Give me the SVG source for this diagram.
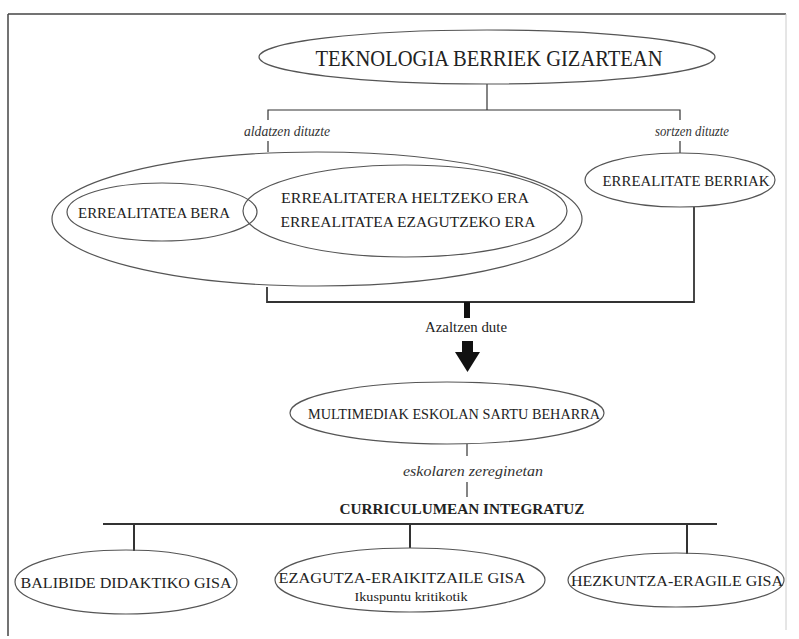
<svg xmlns="http://www.w3.org/2000/svg" width="799" height="639" viewBox="0 0 799 639">
<style>
.bg{fill:#ffffff}
.node ellipse{fill:none;stroke:#555;stroke-width:1.2}
.cap{font-family:"Liberation Serif","DejaVu Serif",serif;fill:#222;text-anchor:middle}
.lbl{font-family:"Liberation Serif","DejaVu Serif",serif;font-style:italic;fill:#333;text-anchor:middle}
.conn line,.conn polyline{stroke:#333;stroke-width:1.2;fill:none}
</style>
<rect class="bg" x="0" y="0" width="799" height="639"/>
<g id="frame">
<line x1="8" y1="14" x2="786" y2="14" stroke="#444" stroke-width="1.5"/>
<line x1="8" y1="14" x2="8" y2="636" stroke="#444" stroke-width="1.5"/>
<line x1="786" y1="14" x2="786" y2="630" stroke="#ccc" stroke-width="1"/>
</g>
<g class="conn" id="connectors">
<line x1="487" y1="84" x2="487" y2="110"/>
<polyline points="268,120 268,110 680,110 680,120"/>
<line x1="268" y1="141" x2="268" y2="152"/>
<line x1="680" y1="141" x2="680" y2="153"/>
<polyline points="267,287 267,302 694,302 694,207" style="stroke-width:1.8"/>
<line x1="467" y1="302" x2="467" y2="318" style="stroke:#111;stroke-width:6"/>
<line x1="467" y1="444" x2="467" y2="456"/>
<line x1="467" y1="482" x2="467" y2="497"/>
<line x1="103" y1="524" x2="717" y2="524" style="stroke-width:2.2"/>
<line x1="134" y1="524" x2="134" y2="551" style="stroke-width:2"/>
<line x1="410" y1="524" x2="410" y2="548" style="stroke-width:2"/>
<line x1="687" y1="524" x2="687" y2="554" style="stroke-width:2"/>
<polygon points="462,341 473,341 473,352 480,352 467.5,372 455,352 462,352" fill="#111" stroke="none"/>
</g>
<text class="lbl" x="287" y="136" font-size="15" textLength="86" lengthAdjust="spacingAndGlyphs">aldatzen dituzte</text>
<text class="lbl" x="692" y="136" font-size="15" textLength="74" lengthAdjust="spacingAndGlyphs">sortzen dituzte</text>
<text class="cap" x="466" y="332" font-size="15" font-family="Liberation Sans" textLength="82" lengthAdjust="spacingAndGlyphs">Azaltzen dute</text>
<text class="lbl" x="473" y="476" font-size="15" textLength="140" lengthAdjust="spacingAndGlyphs">eskolaren zereginetan</text>
<text class="cap" x="462" y="514" font-size="15" font-weight="bold" textLength="245" lengthAdjust="spacingAndGlyphs">CURRICULUMEAN INTEGRATUZ</text>
<g class="node" id="n-teknologia">
<ellipse cx="487" cy="57" rx="228" ry="27"/>
<text class="cap" x="489" y="66" font-size="24" textLength="347" lengthAdjust="spacingAndGlyphs">TEKNOLOGIA BERRIEK GIZARTEAN</text>
</g>
<g class="node" id="n-errealitatea-group">
<ellipse cx="317" cy="219" rx="265" ry="67"/>
</g>
<g class="node" id="n-bera">
<ellipse cx="162" cy="212" rx="95" ry="29"/>
<text class="cap" x="154" y="218" font-size="15" textLength="152" lengthAdjust="spacingAndGlyphs">ERREALITATEA BERA</text>
</g>
<g class="node" id="n-heltzeko">
<ellipse cx="405" cy="211" rx="162" ry="46"/>
<text class="cap" x="405" y="203" font-size="15" textLength="248" lengthAdjust="spacingAndGlyphs">ERREALITATERA HELTZEKO ERA</text>
<text class="cap" x="408" y="227" font-size="15" textLength="255" lengthAdjust="spacingAndGlyphs">ERREALITATEA EZAGUTZEKO ERA</text>
</g>
<g class="node" id="n-berriak">
<ellipse cx="680" cy="180" rx="95" ry="27"/>
<text class="cap" x="686" y="186" font-size="15" textLength="167" lengthAdjust="spacingAndGlyphs">ERREALITATE BERRIAK</text>
</g>
<g class="node" id="n-multimediak">
<ellipse cx="447" cy="413" rx="157" ry="31"/>
<text class="cap" x="454" y="419" font-size="15" textLength="292" lengthAdjust="spacingAndGlyphs">MULTIMEDIAK ESKOLAN SARTU BEHARRA</text>
</g>
<g class="node" id="n-balibide">
<ellipse cx="126" cy="582" rx="111" ry="32"/>
<text class="cap" x="126" y="588" font-size="15" textLength="211" lengthAdjust="spacingAndGlyphs">BALIBIDE  DIDAKTIKO GISA</text>
</g>
<g class="node" id="n-ezagutza">
<ellipse cx="410" cy="580" rx="135" ry="32"/>
<text class="cap" x="402" y="583" font-size="15" textLength="247" lengthAdjust="spacingAndGlyphs">EZAGUTZA-ERAIKITZAILE GISA</text>
<text class="cap" x="411" y="601" font-size="13" textLength="113" lengthAdjust="spacingAndGlyphs">Ikuspuntu kritikotik</text>
</g>
<g class="node" id="n-hezkuntza">
<ellipse cx="676" cy="580" rx="108" ry="27"/>
<text class="cap" x="677" y="586" font-size="15" textLength="212" lengthAdjust="spacingAndGlyphs">HEZKUNTZA-ERAGILE GISA</text>
</g>
</svg>
